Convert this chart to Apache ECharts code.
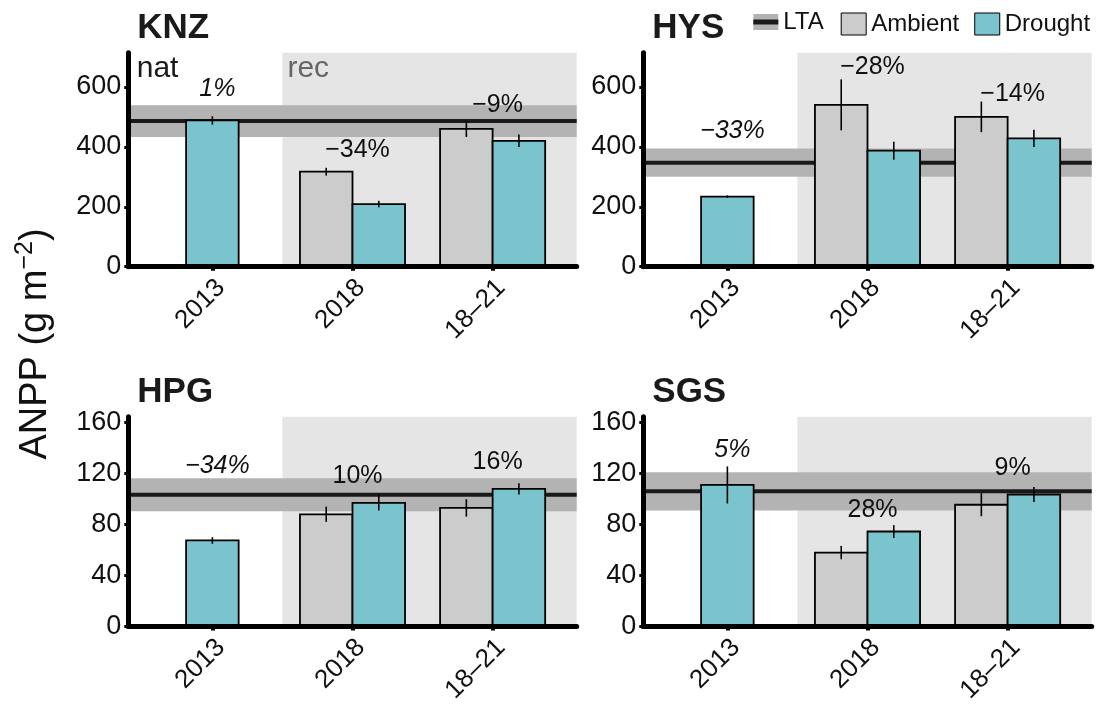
<!DOCTYPE html>
<html>
<head>
<meta charset="utf-8">
<script src="https://cdn.jsdelivr.net/npm/echarts@6/dist/echarts.min.js"></script>
<style>
  html, body { margin: 0; padding: 0; background: #ffffff; }
  #chart { width: 1100px; height: 706px; }
</style>
</head>
<body>
<div id="chart"></div>
<script>
// ---- data -------------------------------------------------------------
const categories = ['2013', '2018', '18–21'];

// Kansas (KNZ)
const knzAmbient   = [null, 317, 460];
const knzAmbientSe = [null, 13, 27];
const knzDrought   = [488, 209, 420];
const knzDroughtSe = [14, 11, 21];
const knzLta = 486;
const knzLtaSe = 53;
const knzChange   = ['1%', '−34%', '−9%'];
const knzChangeAt = [594, 389, 538];

// Hays (HYS)
const hysAmbient   = [null, 540, 500];
const hysAmbientSe = [null, 85, 51];
const hysDrought   = [234, 387, 428];
const hysDroughtSe = [4, 30, 29];
const hysLta = 347;
const hysLtaSe = 47;
const hysChange   = ['−33%', '−28%', '−14%'];
const hysChangeAt = [452, 666, 577];

// High Plains Grassland (HPG)
const hpgAmbient   = [null, 88, 93];
const hpgAmbientSe = [null, 6, 6.8];
const hpgDrought   = [67.5, 97, 108];
const hpgDroughtSe = [2.6, 6, 4.4];
const hpgLta = 103.3;
const hpgLtaSe = 12.9;
const hpgChange   = ['−34%', '10%', '16%'];
const hpgChangeAt = [126, 118, 128.7];

// Shortgrass Steppe (SGS)
const sgsAmbient   = [null, 58, 95.5];
const sgsAmbientSe = [null, 5.2, 9];
const sgsDrought   = [111, 74.5, 103.5];
const sgsDroughtSe = [14.5, 5, 5.8];
const sgsLta = 106;
const sgsLtaSe = 15;
const sgsChange   = ['5%', '28%', '9%'];
const sgsChangeAt = [138, 91.5, 124.5];

const topTicks = [0, 200, 400, 600];
const bottomTicks = [0, 40, 80, 120, 160];

// ---- layout & style ---------------------------------------------------
const FONT = '"Liberation Sans", Arial, Helvetica, sans-serif';
const INK = '#111111';
const AMBIENT_COLOR = '#cccccc';
const DROUGHT_COLOR = '#7ac5cd';
const REC_COLOR = '#e5e5e5';
const BAND_COLOR = '#b3b3b3';
const LINE_COLOR = '#1a1a1a';
const X_MIN = 0.4, X_MAX = 3.6;   // discrete scale with 0.6 padding
const DODGE = 0.1875;             // half of the dodge width
const BAR_W = 0.375;
const REC_START = 1.5;

const panels = [
  { site: 'KNZ', ambient: knzAmbient, ambientSe: knzAmbientSe, drought: knzDrought, droughtSe: knzDroughtSe,
    lta: knzLta, ltaSe: knzLtaSe, change: knzChange, changeAt: knzChangeAt, ticks: topTicks, yMax: 714,
    box: { left: 128.3, top: 52.7, width: 448.4, height: 214 }, periods: true },
  { site: 'HYS', ambient: hysAmbient, ambientSe: hysAmbientSe, drought: hysDrought, droughtSe: hysDroughtSe,
    lta: hysLta, ltaSe: hysLtaSe, change: hysChange, changeAt: hysChangeAt, ticks: topTicks, yMax: 714,
    box: { left: 643.3, top: 52.7, width: 448.4, height: 214 } },
  { site: 'HPG', ambient: hpgAmbient, ambientSe: hpgAmbientSe, drought: hpgDrought, droughtSe: hpgDroughtSe,
    lta: hpgLta, ltaSe: hpgLtaSe, change: hpgChange, changeAt: hpgChangeAt, ticks: bottomTicks, yMax: 164.5,
    box: { left: 128.3, top: 416.7, width: 448.4, height: 214 } },
  { site: 'SGS', ambient: sgsAmbient, ambientSe: sgsAmbientSe, drought: sgsDrought, droughtSe: sgsDroughtSe,
    lta: sgsLta, ltaSe: sgsLtaSe, change: sgsChange, changeAt: sgsChangeAt, ticks: bottomTicks, yMax: 164.5,
    box: { left: 643.3, top: 416.7, width: 448.4, height: 214 } }
];

// x position of each bar: dodged when both treatments exist, centred otherwise
function barPos(p, i, treatment) {
  const c = i + 1;
  if (p.ambient[i] == null) return c;
  return treatment === 'ambient' ? c - DODGE : c + DODGE;
}

function rectBetween(api, x0, y0, x1, y1) {
  const a = api.coord([x0, y0]);
  const b = api.coord([x1, y1]);
  return { x: Math.min(a[0], b[0]), y: Math.min(a[1], b[1]),
           width: Math.abs(b[0] - a[0]), height: Math.abs(b[1] - a[1]) };
}

const grid = [], xAxis = [], yAxis = [], series = [], title = [];

panels.forEach((p, k) => {
  grid.push(Object.assign({ containLabel: false }, p.box));

  xAxis.push({
    gridIndex: k, type: 'value', min: X_MIN, max: X_MAX, z: 10,
    splitLine: { show: false },
    axisLine: { show: true, onZero: true, lineStyle: { color: '#000', width: 5 } },
    axisTick: { show: true, length: 4, lineStyle: { color: '#000', width: 4 }, customValues: [1, 2, 3] },
    axisLabel: {
      customValues: [1.06, 2.06, 3.06],
      formatter: v => categories[Math.round(v) - 1],
      rotate: 45, margin: 17, fontSize: 26, fontFamily: FONT, color: INK
    }
  });

  yAxis.push({
    gridIndex: k, type: 'value', min: 0, max: p.yMax, z: 10,
    splitLine: { show: false },
    axisLine: { show: true, lineStyle: { color: '#000', width: 5 } },
    axisTick: { show: true, length: 4, lineStyle: { color: '#000', width: 3 }, customValues: p.ticks },
    axisLabel: { customValues: p.ticks, margin: 7, fontSize: 27, fontFamily: FONT, color: INK }
  });

  title.push({
    text: p.site, left: p.box.left + 9, top: p.box.top - 42, padding: 0,
    textStyle: { fontSize: 35, fontWeight: 'bold', fontFamily: FONT, color: '#1a1a1a' }
  });

  const axes = { xAxisIndex: k, yAxisIndex: k };

  // recovery period shading
  series.push(Object.assign({
    type: 'custom', name: 'rec-' + p.site, z: 1, silent: true,
    data: [[REC_START, p.yMax]],
    renderItem: (params, api) => ({
      type: 'rect',
      shape: rectBetween(api, api.value(0), api.value(1), X_MAX, 0),
      style: { fill: REC_COLOR }
    })
  }, axes));

  // long-term average band (± error)
  series.push(Object.assign({
    type: 'custom', name: 'LTA', z: 2, silent: true,
    itemStyle: { color: BAND_COLOR },
    data: [[p.lta - p.ltaSe, p.lta + p.ltaSe]],
    encode: { y: [0, 1] },
    renderItem: (params, api) => ({
      type: 'rect',
      shape: rectBetween(api, X_MIN, api.value(1), X_MAX, api.value(0)),
      style: { fill: BAND_COLOR }
    })
  }, axes));

  // long-term average line
  series.push(Object.assign({
    type: 'custom', name: 'LTA line', z: 3, silent: true,
    data: [[p.lta]],
    encode: { y: 0 },
    renderItem: (params, api) => {
      const a = api.coord([X_MIN, api.value(0)]);
      const b = api.coord([X_MAX, api.value(0)]);
      return { type: 'line', shape: { x1: a[0], y1: a[1], x2: b[0], y2: b[1] },
               style: { stroke: LINE_COLOR, lineWidth: 4 } };
    }
  }, axes));

  // bars and error bars for both treatments
  [['Ambient', 'ambient', AMBIENT_COLOR], ['Drought', 'drought', DROUGHT_COLOR]].forEach(([name, key, color]) => {
    const vals = p[key], ses = p[key + 'Se'];
    const barData = [], errData = [];
    vals.forEach((v, i) => {
      if (v == null) return;
      const x = barPos(p, i, key);
      barData.push([x, v]);
      errData.push([x, v - ses[i], v + ses[i]]);
    });
    series.push(Object.assign({
      type: 'custom', name, z: 4,
      itemStyle: { color, borderColor: '#000', borderWidth: 1 },
      data: barData,
      renderItem: (params, api) => ({
        type: 'rect',
        shape: rectBetween(api, api.value(0) - BAR_W / 2, api.value(1), api.value(0) + BAR_W / 2, 0),
        style: { fill: color, stroke: '#000', lineWidth: 1.8 }
      })
    }, axes));
    series.push(Object.assign({
      type: 'custom', name: name + ' error', z: 5, silent: true,
      data: errData,
      encode: { x: 0, y: [1, 2] },
      renderItem: (params, api) => {
        const a = api.coord([api.value(0), api.value(1)]);
        const b = api.coord([api.value(0), api.value(2)]);
        return { type: 'line', shape: { x1: a[0], y1: a[1], x2: b[0], y2: b[1] },
                 style: { stroke: '#000', lineWidth: 1.6 } };
      }
    }, axes));
  });

  // percent change labels (italic for the natural-drought year)
  series.push(Object.assign({
    type: 'custom', name: 'change-' + p.site, z: 6, silent: true,
    data: p.changeAt.map((v, i) => [i + 1, v]),
    renderItem: (params, api) => {
      const pt = api.coord([api.value(0), api.value(1)]);
      const i = params.dataIndex;
      return { type: 'text', x: pt[0] + 5, y: pt[1],
               style: { text: p.change[i], fontSize: 25, fontFamily: FONT,
                        fontStyle: i === 0 ? 'italic' : 'normal', fill: INK,
                        align: 'center', verticalAlign: 'middle' } };
    }
  }, axes));

  // period names
  if (p.periods) {
    series.push(Object.assign({
      type: 'custom', name: 'periods', z: 6, silent: true,
      data: [[X_MIN, p.yMax], [REC_START, p.yMax]],
      renderItem: (params, api) => {
        const pt = api.coord([api.value(0), api.value(1)]);
        const first = params.dataIndex === 0;
        return { type: 'text', x: pt[0] + (first ? 8.4 : 5), y: pt[1] + 15.6,
                 style: { text: first ? 'nat' : 'rec', fontSize: 30, fontFamily: FONT,
                          fill: first ? '#1a1a1a' : '#666666', align: 'left', verticalAlign: 'middle' } };
      }
    }, axes));
  }
});

const chart = echarts.init(document.getElementById('chart'), null, { renderer: 'canvas' });
chart.setOption({
  backgroundColor: '#ffffff',
  animation: false,
  title,
  grid, xAxis, yAxis, series,
  legend: [
    { data: [{ name: 'LTA', itemStyle: { color: BAND_COLOR, borderWidth: 0 } }],
      left: 753.3, top: 10, padding: 0, icon: 'rect', itemWidth: 25, itemHeight: 16,
      selectedMode: false, textStyle: { fontSize: 24, fontFamily: FONT, color: INK } },
    { data: [
        { name: 'Ambient', itemStyle: { color: AMBIENT_COLOR, borderColor: '#000', borderWidth: 1 } },
        { name: 'Drought', itemStyle: { color: DROUGHT_COLOR, borderColor: '#000', borderWidth: 1 } }
      ],
      left: 840.7, top: 12, padding: 0, icon: 'rect', itemWidth: 25, itemHeight: 22, itemGap: 15,
      selectedMode: false, textStyle: { fontSize: 24, fontFamily: FONT, color: INK } }
  ],
  graphic: [
    { type: 'line', shape: { x1: 753.3, y1: 22, x2: 778.3, y2: 22 }, z: 100,
      style: { stroke: LINE_COLOR, lineWidth: 5 } },
    { type: 'text', x: 36, y: 344, rotation: Math.PI / 2,
      style: {
        text: '{m|ANPP (g m}{s|−2}{m|)}',
        align: 'center', verticalAlign: 'middle',
        rich: {
          m: { fontSize: 38, fontFamily: FONT, fill: INK, lineHeight: 46 },
          s: { fontSize: 25, fontFamily: FONT, fill: INK, verticalAlign: 'top', lineHeight: 46 }
        }
      } }
  ]
});
</script>
</body>
</html>
